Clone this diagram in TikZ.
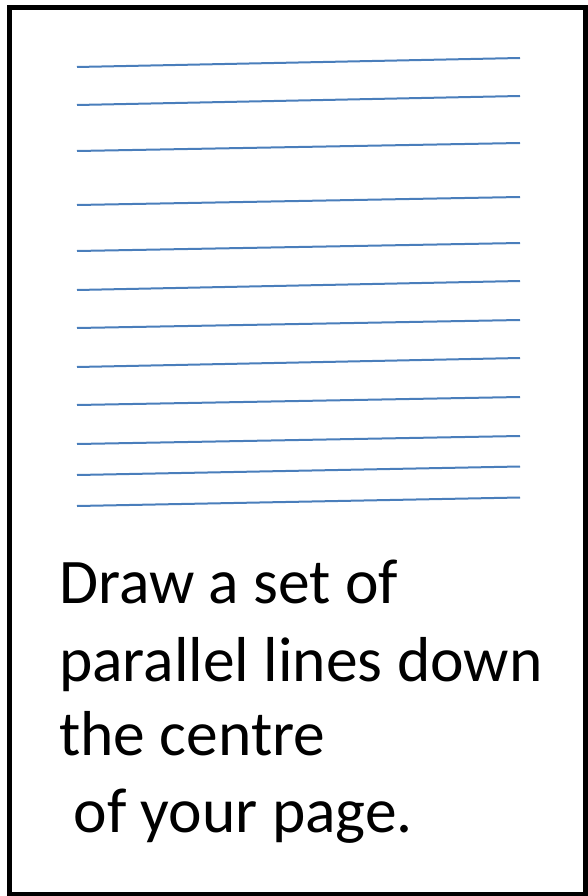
\documentclass[tikz,border=0pt]{standalone}
\usepackage{fontspec}
\setmainfont{Carlito}
\definecolor{ruleblue}{HTML}{4A7EBB}
\begin{document}
\begin{tikzpicture}[x=1pt,y=-1pt,
  ruleline/.style={draw=ruleblue,line width=2pt},
  frame/.style={draw=black,line width=5pt},
  txt/.style={anchor=base west,inner sep=0pt,font=\fontsize{63.5}{76}\selectfont}]
\useasboundingbox (0,0) rectangle (588,896);
\draw[frame] (9.5,7.5) rectangle (585.5,894);
\foreach \i/\yl/\yr in {1/67/58,2/105/96,3/151/143,4/205/197,5/251/243,6/290/281,7/328/320,8/367/358,9/405/397,10/444/436,11/475/466.5,12/506/497.5}{
  \coordinate (l\i) at (77,\yl);
  \coordinate (r\i) at (520,\yr);
  \draw[ruleline] (l\i) -- (r\i);
}
\node[txt] (t1) at (59,603) {Draw a set of};
\node[txt] (t2) at (59,681) {parallel lines down};
\node[txt] (t3) at (59,755) {the centre};
\node[txt] (t4) at (59,832) {\ of your page.};
\end{tikzpicture}
\end{document}
